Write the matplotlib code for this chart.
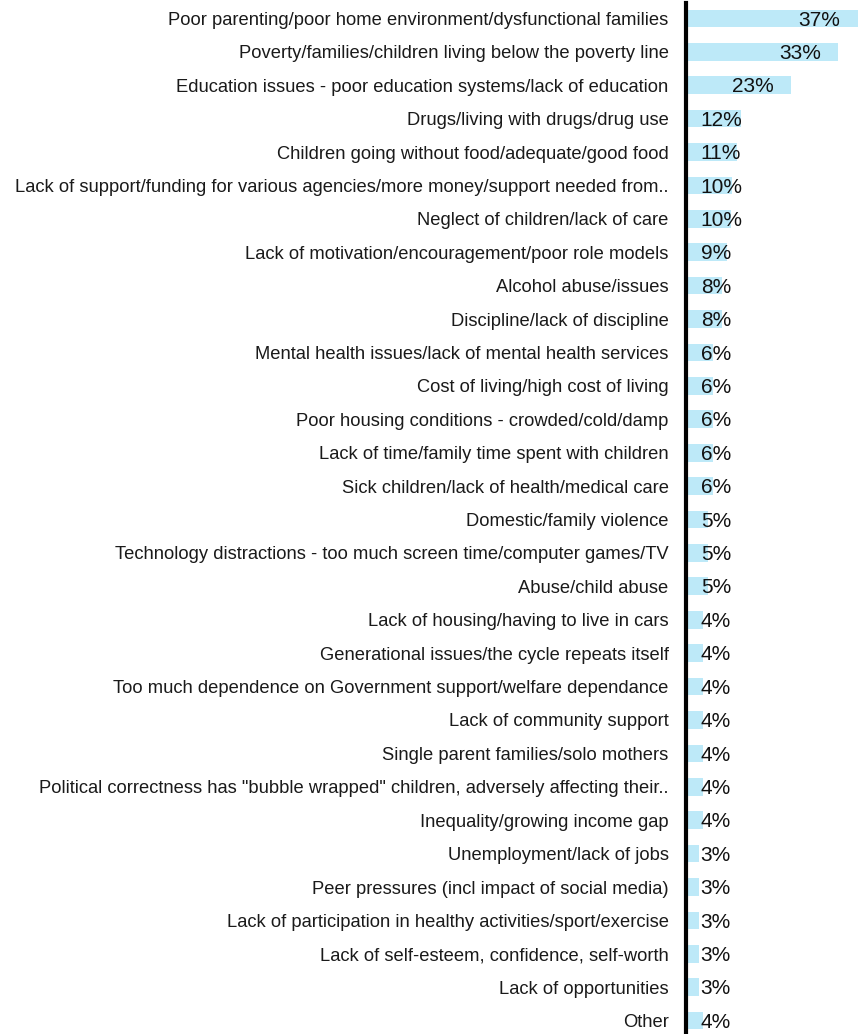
import matplotlib
matplotlib.use('Agg')
import matplotlib.pyplot as plt

plt.rcParams['font.family'] = ['Liberation Sans', 'DejaVu Sans']

categories = [
    'Poor parenting/poor home environment/dysfunctional families',
    'Poverty/families/children living below the poverty line',
    'Education issues - poor education systems/lack of education',
    'Drugs/living with drugs/drug use',
    'Children going without food/adequate/good food',
    'Lack of support/funding for various agencies/more money/support needed from..',
    'Neglect of children/lack of care',
    'Lack of motivation/encouragement/poor role models',
    'Alcohol abuse/issues',
    'Discipline/lack of discipline',
    'Mental health issues/lack of mental health services',
    'Cost of living/high cost of living',
    'Poor housing conditions - crowded/cold/damp',
    'Lack of time/family time spent with children',
    'Sick children/lack of health/medical care',
    'Domestic/family violence',
    'Technology distractions - too much screen time/computer games/TV',
    'Abuse/child abuse',
    'Lack of housing/having to live in cars',
    'Generational issues/the cycle repeats itself',
    'Too much dependence on Government support/welfare dependance',
    'Lack of community support',
    'Single parent families/solo mothers',
    'Political correctness has "bubble wrapped" children, adversely affecting their..',
    'Inequality/growing income gap',
    'Unemployment/lack of jobs',
    'Peer pressures (incl impact of social media)',
    'Lack of participation in healthy activities/sport/exercise',
    'Lack of self-esteem, confidence, self-worth',
    'Lack of opportunities',
    'Other',
]

values = [37.3, 33.0, 22.9, 12.0, 11.1, 10.0, 9.8, 8.9, 7.8, 7.8,
          5.9, 5.9, 5.9, 5.9, 5.9, 4.8, 4.8, 4.8, 3.7, 3.7,
          3.7, 3.7, 3.7, 3.7, 3.7, 2.8, 2.8, 2.8, 2.8, 2.8, 3.7]

value_labels = ['37%', '33%', '23%', '12%', '11%', '10%', '10%', '9%', '8%', '8%',
                '6%', '6%', '6%', '6%', '6%', '5%', '5%', '5%', '4%', '4%',
                '4%', '4%', '4%', '4%', '4%', '3%', '3%', '3%', '3%', '3%', '4%']

W, H = 860, 1034
fig = plt.figure(figsize=(W / 100, H / 100), dpi=100)
ax = fig.add_axes([686 / W, 0, 1 - 686 / W, 1 - 3 / H])

y = list(range(len(categories)))
ax.barh(y, values, height=0.53, color='#bde9f8', zorder=1)

# value labels sit inside the long bars, just past the end of short ones
for yi, v, lab in zip(y, values, value_labels):
    ax.text(max(v - 12.8, 3.2), yi + 0.05, lab, ha='left', va='center',
            fontsize=15, color='#111111', zorder=3)

ax.set_xlim(0, 174 / 4.6)
ax.set_ylim(len(categories) - 1 + 0.4, -0.46)
ax.set_yticks(y)
ax.set_yticklabels(categories, fontsize=13.2, color='#1a1a1a')
ax.tick_params(axis='y', length=0, pad=12.5)
ax.set_xticks([])

for s in ['top', 'right', 'bottom']:
    ax.spines[s].set_visible(False)
ax.spines['left'].set_linewidth(3)
ax.spines['left'].set_color('black')
ax.spines['left'].set_zorder(4)

fig.savefig('out.png', dpi=100)
